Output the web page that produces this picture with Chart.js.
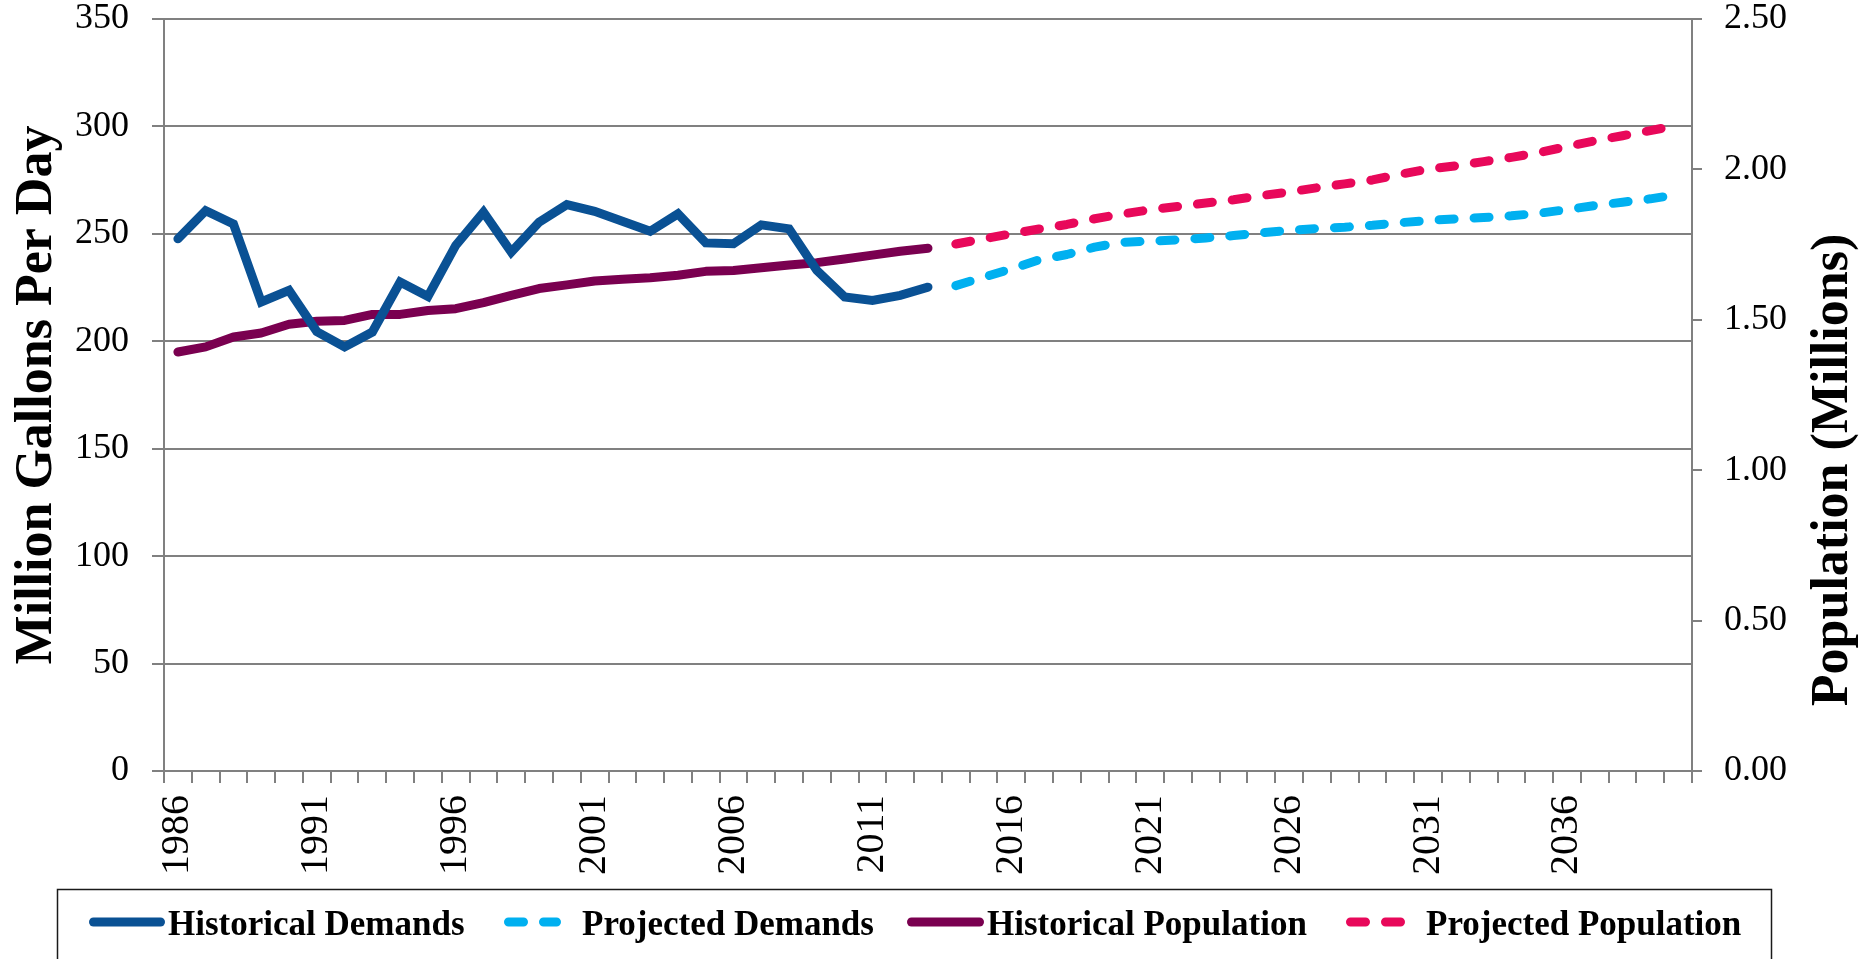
<!DOCTYPE html>
<html><head><meta charset="utf-8">
<script src="https://cdn.jsdelivr.net/npm/chart.js@4/dist/chart.umd.min.js"></script>
<style>html,body{margin:0;padding:0;background:#fff;}#wrap{width:1873px;height:959px;position:relative;overflow:hidden;}</style>
</head><body><div id="wrap"><canvas id="c" width="1873" height="959"></canvas></div>
<script>
// ---- data ----
const years = ['1986','1987','1988','1989','1990','1991','1992','1993','1994','1995','1996','1997','1998','1999','2000','2001','2002','2003','2004','2005','2006','2007','2008','2009','2010','2011','2012','2013','2014','2015','2016','2017','2018','2019','2020','2021','2022','2023','2024','2025','2026','2027','2028','2029','2030','2031','2032','2033','2034','2035','2036','2037','2038','2039','2040'];
// 1986-2013
const historicalDemands = [247.7,260.8,254.6,218.3,223.7,204.5,197.4,204.3,227.6,220.9,244.6,260.1,241.5,255.4,263.6,260.5,255.9,251.2,259.3,245.8,245.4,254.2,252.3,233.0,220.6,219.0,221.4,225.2];
// 2014-2040
const projectedDemands = [225.9,229.8,233.7,237.9,240.4,243.8,246.1,246.6,247.2,248.1,249.2,250.5,251.6,252.5,253.1,254.0,255.2,256.2,257.0,257.6,258.4,259.6,261.3,263.2,264.7,266.3,268.3];
// 1986-2013 (millions)
const historicalPopulation = [1.393,1.410,1.443,1.456,1.485,1.495,1.498,1.518,1.518,1.531,1.537,1.557,1.581,1.604,1.616,1.629,1.635,1.640,1.648,1.661,1.664,1.673,1.682,1.690,1.702,1.715,1.728,1.738];
// 2014-2040 (millions)
const projectedPopulation = [1.752,1.769,1.786,1.802,1.817,1.836,1.852,1.866,1.877,1.888,1.899,1.913,1.925,1.939,1.952,1.965,1.984,2.001,2.012,2.026,2.040,2.056,2.076,2.095,2.112,2.129,2.147];
const seriesNames = ['Historical Demands','Projected Demands','Historical Population','Projected Population'];
const leftAxisTitle = 'Million Gallons Per Day';
const rightAxisTitle = 'Population (Millions)';

// ---- build ----
const nHist = historicalDemands.length;
const nProj = projectedDemands.length;
const nulls = n => Array(n).fill(null);
const histDemFull = historicalDemands.concat(nulls(nProj));
const projDemFull = nulls(nHist).concat(projectedDemands);
const histPopFull = historicalPopulation.concat(nulls(nProj));
const projPopFull = nulls(nHist).concat(projectedPopulation);

const SERIF = '"Liberation Serif", "DejaVu Serif", serif';
const GRID = '#808080';
const DASH = [15, 20];
const TICKSIZE = 36;

const legendPlugin = {
  id: 'boxLegend',
  afterDraw(chart) {
    const ctx = chart.ctx;
    ctx.save();
    ctx.font = 'bold 52px ' + SERIF;
    ctx.fillStyle = '#000';
    ctx.textAlign = 'center';
    ctx.textBaseline = 'middle';
    ctx.translate(1834, 470);
    ctx.rotate(-Math.PI / 2);
    ctx.fillText(rightAxisTitle, 0, 0);
    ctx.restore();

    ctx.save();
    ctx.strokeStyle = '#1a1a1a';
    ctx.lineWidth = 1.5;
    ctx.strokeRect(57.5, 889.5, 1714, 120);
    const layout = [{x0:89,x1:165,tx:168},{x0:504,x1:561,tx:582},{x0:907,x1:984,tx:987},{x0:1346,x1:1406,tx:1426}];
    chart.data.datasets.forEach((ds, i) => {
      const L = layout[i];
      ctx.save();
      ctx.strokeStyle = ds.borderColor;
      ctx.lineWidth = 9;
      ctx.lineCap = 'round';
      ctx.setLineDash(ds.borderDash || []);
      ctx.beginPath();
      ctx.moveTo(L.x0 + 4.5, 922);
      ctx.lineTo(L.x1 - 4.5, 922);
      ctx.stroke();
      ctx.restore();
      ctx.font = 'bold 35px ' + SERIF;
      ctx.fillStyle = '#000';
      ctx.textAlign = 'left';
      ctx.textBaseline = 'alphabetic';
      ctx.fillText(ds.label, L.tx, 935);
    });
    ctx.restore();
  }
};

const fitV = w => s => { s.width = w; s.paddingTop = 0; s.paddingBottom = 0; };

new Chart(document.getElementById('c'), {
  type: 'line',
  data: {
    labels: years,
    datasets: [
      {label: seriesNames[0], data: histDemFull, yAxisID: 'y', borderColor: '#0A5194', borderWidth: 9, borderCapStyle: 'round', borderJoinStyle: 'miter', pointRadius: 0, tension: 0, spanGaps: false},
      {label: seriesNames[1], data: projDemFull, yAxisID: 'y', borderColor: '#00B0F0', borderWidth: 9, borderDash: DASH, borderCapStyle: 'round', borderJoinStyle: 'round', pointRadius: 0, tension: 0, spanGaps: false},
      {label: seriesNames[2], data: histPopFull, yAxisID: 'y1', borderColor: '#7A0050', borderWidth: 9, borderCapStyle: 'round', borderJoinStyle: 'round', pointRadius: 0, tension: 0, spanGaps: false},
      {label: seriesNames[3], data: projPopFull, yAxisID: 'y1', borderColor: '#E8085A', borderWidth: 9, borderDash: DASH, borderCapStyle: 'round', borderJoinStyle: 'round', pointRadius: 0, tension: 0, spanGaps: false}
    ]
  },
  options: {
    responsive: false,
    devicePixelRatio: 1,
    animation: false,
    layout: {padding: {top: 19, left: 0, right: 0, bottom: 72}},
    plugins: {legend: {display: false}, tooltip: {enabled: false}},
    scales: {
      x: {
        type: 'category',
        offset: true,
        grid: {offset: true, drawOnChartArea: false, drawTicks: true, tickLength: 12, color: GRID, lineWidth: 2},
        border: {display: true, color: GRID, width: 2},
        ticks: {autoSkip: false, maxRotation: 90, minRotation: 90, padding: 12, color: '#000', font: {family: SERIF, size: 40},
          callback: (v, i) => (i % 5 === 0 ? years[i] : '')},
        afterFit: s => { s.height = 116; s.paddingLeft = 0; s.paddingRight = 0; }
      },
      y: {
        position: 'left', min: 0, max: 350,
        ticks: {stepSize: 50, padding: 23, color: '#000', font: {family: SERIF, size: TICKSIZE, lineHeight: 1}},
        grid: {color: GRID, lineWidth: 2, tickLength: 12},
        border: {color: GRID, width: 2},
        title: {display: true, text: leftAxisTitle, color: '#000', font: {family: SERIF, size: 52, weight: 'bold', lineHeight: 1.2}, padding: {top: 6, bottom: 0}},
        afterFit: fitV(164)
      },
      y1: {
        position: 'right', min: 0, max: 2.5,
        ticks: {stepSize: 0.5, padding: 22, color: '#000', font: {family: SERIF, size: TICKSIZE, lineHeight: 1}, callback: v => Number(v).toFixed(2)},
        grid: {drawOnChartArea: false, color: GRID, lineWidth: 2, tickLength: 10},
        border: {color: GRID, width: 2},
        afterFit: fitV(181)
      }
    }
  },
  plugins: [legendPlugin]
});
</script></body></html>
